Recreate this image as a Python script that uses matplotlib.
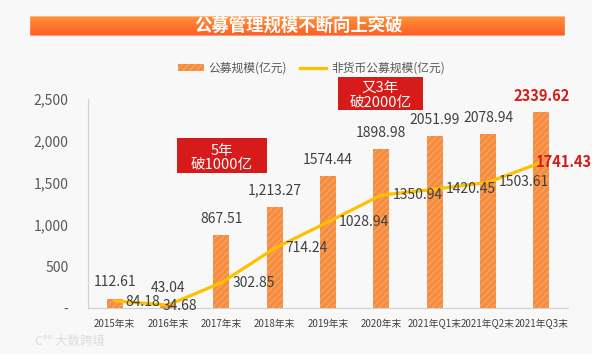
import matplotlib.pyplot as plt
import numpy as np
from matplotlib.patches import FancyBboxPatch, Patch
from matplotlib.lines import Line2D
from matplotlib.colors import LinearSegmentedColormap

plt.rcParams['font.family'] = ['Liberation Sans Narrow', 'Noto Sans CJK SC', 'DejaVu Sans']
plt.rcParams['hatch.linewidth'] = 0.6

categories = ['2015年末', '2016年末', '2017年末', '2018年末', '2019年末',
              '2020年末', '2021年Q1末', '2021年Q2末', '2021年Q3末']
total = [112.61, 43.04, 867.51, 1213.27, 1574.44, 1898.98, 2051.99, 2078.94, 2339.62]
total_labels = ['112.61', '43.04', '867.51', '1,213.27', '1574.44', '1898.98',
                '2051.99', '2078.94', '2339.62']
nonmoney = [84.18, 34.68, 302.85, 714.24, 1028.94, 1350.94, 1420.45, 1503.61, 1741.43]
yticks = [0, 500, 1000, 1500, 2000, 2500]
ytick_labels = ['-', '500', '1,000', '1,500', '2,000', '2,500']

BG = '#F8F8F8'
ORANGE = '#F68D3E'
HATCH = '#F9AE74'
GOLD = '#FFC000'
RED = '#D71A1A'
GRAY = '#404040'

fig = plt.figure(figsize=(5.92, 3.54), dpi=100, facecolor=BG)

# title banner with vertical gradient
W, H = 592, 354
bx0, bx1, by0, by1 = 28, 567, 16, 36
bax = fig.add_axes([bx0 / W, 1 - by1 / H, (bx1 - bx0) / W, (by1 - by0) / H])
bax.set_axis_off()
grad = np.linspace(0, 1, 64).reshape(-1, 1)
cmap = LinearSegmentedColormap.from_list('b', ['#FF9438', '#FF5E24'])
im = bax.imshow(grad, aspect='auto', cmap=cmap, extent=[0, 1, 0, 1], origin='upper')
box = FancyBboxPatch((0.004, 0.02), 0.992, 0.96, boxstyle='round,pad=0,rounding_size=0.008',
                     transform=bax.transAxes, facecolor='none', edgecolor='none')
bax.add_patch(box)
im.set_clip_path(box)
bax.set_xlim(0, 1)
bax.set_ylim(0, 1)
fig.text(0.505, 1 - 26 / H, '公募管理规模不断向上突破', color='white', fontsize=12.5,
         fontweight='bold', ha='center', va='center',
         family=['Noto Sans CJK SC', 'DejaVu Sans'])

ax = fig.add_axes([88 / W, 1 - 308 / H, 480 / W, 209 / H])
ax.set_facecolor('none')
x = np.arange(len(categories))

ax.bar(x, total, width=0.3, color=ORANGE, edgecolor=HATCH, linewidth=0,
       hatch='/////', zorder=2)
ax.plot(x, nonmoney, color=GOLD, lw=2.3, zorder=3, solid_joinstyle='round',
        solid_capstyle='round')

ax.set_xlim(-0.5, len(categories) - 0.5)
ax.set_ylim(0, 2500)
ax.set_yticks(yticks)
ax.set_yticklabels(ytick_labels, fontsize=10, color='#595959')
ax.set_xticks(x)
ax.set_xticklabels(categories, fontsize=7, color=GRAY)
ax.tick_params(axis='y', length=0, pad=14)
ax.tick_params(axis='x', length=0, pad=8)
for s in ['top', 'right']:
    ax.spines[s].set_visible(False)
for s in ['left', 'bottom']:
    ax.spines[s].set_color('#D0D0D0')
    ax.spines[s].set_linewidth(0.8)

last = len(categories) - 1
for i in range(len(categories)):
    red = i == last
    ax.annotate(total_labels[i], (x[i], total[i]), xytext=(0, 12), textcoords='offset points',
                ha='center', va='center', fontsize=10.5 if red else 10,
                color=RED if red else GRAY, fontweight='bold' if red else 'normal', zorder=4)
    dx = 8
    if i == 1 or red:
        dx = -4
    ax.annotate(f'{nonmoney[i]:.2f}', (x[i], nonmoney[i]), xytext=(dx, -1 if i < 2 else 0),
                textcoords='offset points', ha='left', va='center',
                fontsize=10.5 if red else 10, color=RED if red else GRAY,
                fontweight='bold' if red else 'normal', zorder=4)

# red callout boxes
for (x0, y0, x1, y1), txt in [((177, 138, 267, 173), '5年\n破1000亿'),
                              ((338, 77, 423, 110), '又3年\n破2000亿')]:
    fig.patches.append(plt.Rectangle((x0 / W, 1 - y1 / H), (x1 - x0) / W, (y1 - y0) / H,
                                     transform=fig.transFigure, facecolor=RED,
                                     edgecolor='none', zorder=5))
    fig.text((x0 + x1) / 2 / W, 1 - ((y0 + y1) / 2 + 2.5) / H, txt, color='white',
             fontsize=10.5, ha='center', va='center', linespacing=0.95, zorder=6)

handles = [Patch(facecolor=ORANGE, edgecolor=HATCH, linewidth=0, hatch='/////'),
           Line2D([], [], color=GOLD, lw=2.3)]
fig.legend(handles, ['公募规模(亿元)', '非货币公募规模(亿元)'], loc='center',
           bbox_to_anchor=(0.526, 1 - 68 / H), ncol=2, frameon=False,
           labelcolor='#595959', handlelength=2.2, handleheight=0.6,
           handletextpad=0.4, columnspacing=1.1,
           prop={'family': ['Noto Sans CJK SC', 'DejaVu Sans'], 'size': 8.5})

fig.text(35 / W, 1 - 341 / H, 'C°° 大数跨境', color='#DCDCDC', fontsize=9,
         ha='left', va='center', family=['Noto Sans CJK SC', 'DejaVu Sans'])

fig.savefig('out.png', dpi=100, facecolor=BG)
